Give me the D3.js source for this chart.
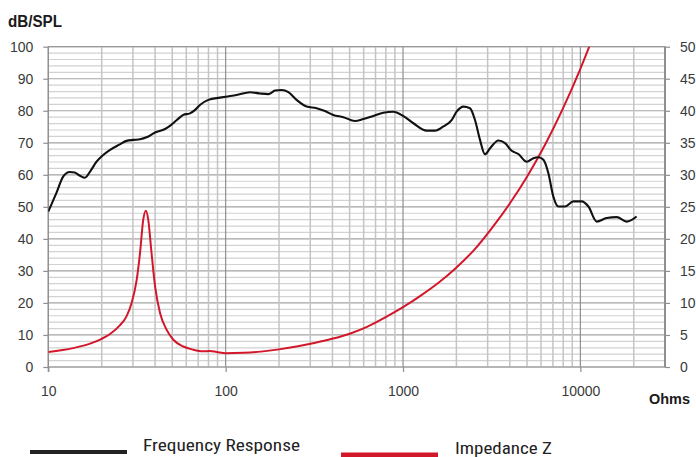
<!DOCTYPE html>
<html><head><meta charset="utf-8">
<script src="https://cdn.jsdelivr.net/npm/d3@7"></script>
<style>
html,body{margin:0;padding:0;background:#fff;}
svg{display:block;}
</style></head>
<body>
<svg id="c" width="696" height="457"></svg>
<script>
// ---- data ----
const frFreq = [10,11.1,12.15,13.2,14.1,15.1,16.1,17.2,18.7,20.4,22.3,25.3,27.6,30.2,32.9,35.8,40,45.5,48.5,53,57.7,62.9,67,71.6,79.9,92.8,100,115,137,156,174,190,207,226,251,286,326,363,404,461,536,597,680,774,882,1000,1144,1360,1515,1688,1880,2005,2190,2385,2546,2717,2900,3095,3450,3760,4100,4470,4985,5430,5800,6190,6600,7040,7510,8190,9130,10170,11100,12360,14070,16040,18240,20760];
const frDb   = [48.5,54.3,59.5,60.9,60.7,59.7,59.1,61.0,64.1,66.2,67.8,69.5,70.6,70.9,71.1,71.7,73.2,74.3,75.3,77.1,78.7,79.2,80.2,81.8,83.4,84.1,84.4,84.9,85.8,85.4,85.2,86.3,86.5,85.8,83.4,81.3,80.8,79.9,78.7,78.0,76.8,77.4,78.4,79.4,79.7,78.4,76.1,73.8,73.8,75.1,77.1,79.7,81.3,80.8,77.1,70.9,66.4,68.3,70.7,69.9,67.5,66.5,64.1,65.2,65.5,64.7,60.5,53.2,50.1,50.1,51.7,51.7,50.1,45.4,46.5,46.8,45.4,47.0];

const zFreq = [10,13.8,17.2,20,22.3,25.3,27.6,29.5,31.5,32.9,34.3,35.5,36.6,38.2,40,42.7,46.5,50.7,57.7,65.6,74.8,81.5,89,100,126,158,200,251,316,398,501,631,794,1000,1259,1585,1995,2512,3162,3981,5012,6310,7943,10000,11220,12589];
const zOhm  = [2.34,2.95,3.64,4.4,5.15,6.5,7.9,10,13.6,17.8,23,24.4,23,17.8,12.6,8.4,5.8,4.25,3.2,2.7,2.45,2.5,2.35,2.15,2.22,2.4,2.75,3.2,3.75,4.4,5.2,6.3,7.75,9.35,11.15,13.15,15.5,18.25,21.65,25.45,29.75,34.65,40.25,46.55,50.0,53.6];

const xTicks = [10,100,1000,10000];
const yLeftTicks = [0,10,20,30,40,50,60,70,80,90,100];
const yRightTicks = [0,5,10,15,20,25,30,35,40,45,50];
const legendLabels = ["Frequency Response","Impedance Z"];

// ---- layout ----
const L = 48.3, R = 665, T = 46.7, B = 367;
const svg = d3.select("#c");
const x = d3.scaleLog().domain([10,30000]).range([L,R]);
const yL = d3.scaleLinear().domain([0,100]).range([B,T]);
const yR = d3.scaleLinear().domain([0,50]).range([B,T]);
const tickFont = "'Liberation Sans', Arial, sans-serif";
const narrow = "'Liberation Sans Narrow', 'Roboto Condensed', 'DejaVu Sans Condensed', 'Liberation Sans', Arial, sans-serif";

// grid: horizontal
const g = svg.append("g");
d3.range(0,101,2).forEach(v=>{
  const major = v%10===0;
  g.append("line").attr("x1",L).attr("x2",R).attr("y1",yL(v)).attr("y2",yL(v))
   .attr("stroke", major? "#a3a3a3" : "#d2d2d2").attr("stroke-width",1.2);
});
// grid: vertical
const vlines = [];
[10,100,1000,10000].forEach(d=>{ for(let m=1;m<=9;m++){ const f=d*m; if(f<=30000) vlines.push(f);} });
vlines.forEach(f=>{
  const major = xTicks.includes(f);
  g.append("line").attr("x1",x(f)).attr("x2",x(f)).attr("y1",T).attr("y2",B)
   .attr("stroke", major? "#8f8f8f":"#c4c4c4").attr("stroke-width", major?1.2:1.5);
});
// frame
g.append("line").attr("x1",L).attr("x2",R).attr("y1",T).attr("y2",T).attr("stroke","#9a9a9a").attr("stroke-width",1.2);
g.append("line").attr("x1",L).attr("x2",R).attr("y1",B).attr("y2",B).attr("stroke","#9a9a9a").attr("stroke-width",1.2);
g.append("line").attr("x1",L).attr("x2",L).attr("y1",T).attr("y2",B+5).attr("stroke","#8f8f8f").attr("stroke-width",1.2);
g.append("line").attr("x1",R).attr("x2",R).attr("y1",T).attr("y2",B).attr("stroke","#8f8f8f").attr("stroke-width",2);

// axes
const axL = svg.append("g").attr("transform",`translate(${L},0)`)
  .call(d3.axisLeft(yL).tickValues(yLeftTicks).tickSize(5).tickPadding(10).tickFormat(d3.format("d")));
const axR = svg.append("g").attr("transform",`translate(${R},0)`)
  .call(d3.axisRight(yR).tickValues(yRightTicks).tickSize(5).tickPadding(10).tickFormat(d3.format("d")));
const axB = svg.append("g").attr("transform",`translate(0,${B})`)
  .call(d3.axisBottom(x).tickValues(xTicks).tickSize(5).tickPadding(14).tickFormat(d3.format("d")));
[axL,axR,axB].forEach(a=>{
  a.select(".domain").remove();
  a.selectAll(".tick line").attr("stroke","#8f8f8f").attr("stroke-width",1.2);
  a.selectAll(".tick text").attr("fill","#3a3a3a").style("font-family",tickFont).style("font-size","14px");
});

// clip
svg.append("clipPath").attr("id","clip").append("rect").attr("x",L).attr("y",T).attr("width",R-L).attr("height",B-T);

// curves
const frLine = d3.line().x((d,i)=>x(frFreq[i])).y((d,i)=>yL(frDb[i])).curve(d3.curveMonotoneX);
const zLine  = d3.line().x((d,i)=>x(zFreq[i])).y((d,i)=>yR(zOhm[i])).curve(d3.curveMonotoneX);
svg.append("path").attr("d",zLine(zFreq)).attr("fill","none").attr("stroke","#d3172b").attr("stroke-width",2).attr("clip-path","url(#clip)");
svg.append("path").attr("d",frLine(frFreq)).attr("fill","none").attr("stroke","#111").attr("stroke-width",2.1).attr("clip-path","url(#clip)");

// titles
svg.append("text").attr("x",8).attr("y",27).text("dB/SPL")
  .style("font-family","'Liberation Sans', Arial, sans-serif").style("font-weight","bold").style("font-size","16px")
  .attr("fill","#1a1a1a").attr("textLength",54).attr("lengthAdjust","spacingAndGlyphs");
svg.append("text").attr("x",649).attr("y",404).text("Ohms")
  .style("font-family","'Liberation Sans', Arial, sans-serif").style("font-weight","bold").style("font-size","15px")
  .attr("fill","#1a1a1a").attr("textLength",41).attr("lengthAdjust","spacingAndGlyphs");

// legend
const lg = svg.append("g");
lg.append("line").attr("x1",30).attr("x2",127).attr("y1",452).attr("y2",452).attr("stroke","#222").attr("stroke-width",4);
lg.append("text").attr("x",143).attr("y",451).text(legendLabels[0])
  .style("font-family",narrow).style("font-size","17px").attr("fill","#222")
  .attr("textLength",157).attr("lengthAdjust","spacingAndGlyphs");
lg.append("line").attr("x1",341).attr("x2",438).attr("y1",455).attr("y2",455).attr("stroke","#d3172b").attr("stroke-width",5);
lg.append("text").attr("x",455).attr("y",454).text(legendLabels[1])
  .style("font-family",narrow).style("font-size","17px").attr("fill","#222")
  .attr("textLength",97).attr("lengthAdjust","spacingAndGlyphs");
</script>
</body></html>
